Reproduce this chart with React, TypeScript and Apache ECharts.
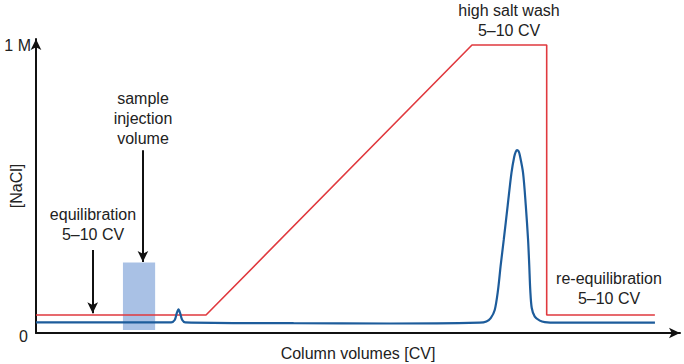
import React, { useEffect, useRef } from "react";
import * as echarts from "echarts";

// Salt gradient ([NaCl], fraction of 1 M) vs column volumes (arbitrary CV scale 0-100)
const saltX = [0, 26.4, 67.7, 79.3, 79.3, 96.1];
const saltY = [0.0625, 0.0625, 1.0, 1.0, 0.0625, 0.0625];

// UV absorbance trace (same x scale, drawn on same y scale)
const absX = [0, 21.0, 21.54, 21.85, 22.13, 22.39, 22.71, 23.17, 40, 55, 68.9, 69.94, 70.61, 71.23, 71.74, 72.16, 72.63, 73.25, 73.83, 74.26, 74.49, 74.7, 74.94, 75.12, 75.63, 76.05, 76.41, 76.59, 76.75, 76.98, 77.45, 78.23, 79.0, 80.82, 96.11];
const absY = [0.037, 0.037, 0.045, 0.068, 0.082, 0.068, 0.045, 0.037, 0.034, 0.033, 0.036, 0.04, 0.052, 0.08, 0.149, 0.236, 0.323, 0.444, 0.556, 0.612, 0.629, 0.635, 0.631, 0.618, 0.556, 0.444, 0.323, 0.236, 0.149, 0.087, 0.057, 0.043, 0.038, 0.036, 0.036];

// Sample injection volume block
const injectionStart = 13.5;
const injectionEnd = 18.5;
const injectionBottom = 0.01;
const injectionTop = 0.245;

// Annotation arrows: [x, yFrom, yTo]
const injectionArrow = [16.6, 0.635, 0.247];
const equilArrow = [8.8, 0.288, 0.069];

const yTickValues = [0, 1];
const yTickLabels = ["0", "1 M"];

const FONT = "'Liberation Sans', Arial, sans-serif";
const FS = 16;
const TXT = "#222";

export default function App() {
  const ref = useRef<HTMLDivElement>(null);
  useEffect(() => {
    const chart = echarts.init(ref.current!, null, { renderer: "svg" });
    const zip = (xs: number[], ys: number[]) => xs.map((x, i) => [x, ys[i]]);
    const arrowLine = (a: number[]) => [{ coord: [a[0], a[1]] }, { coord: [a[0], a[2]] }];
    const textStyle = (t: string) => ({
      text: t,
      font: `${FS}px ${FONT}`,
      fill: TXT,
      textAlign: "center",
      textVerticalAlign: "top",
      lineHeight: 20,
    });
    chart.setOption({
      animation: false,
      backgroundColor: "#fff",
      grid: { left: 36, right: 4, top: 39, bottom: 31, containLabel: false, outerBoundsMode: "none" },
      xAxis: {
        type: "value",
        min: 0,
        max: 100,
        axisLine: {
          show: true,
          symbol: ["none", "arrow"],
          symbolSize: [8, 11],
          lineStyle: { color: "#111", width: 2 },
        },
        axisTick: { show: false },
        axisLabel: { show: false },
        splitLine: { show: false },
        name: "Column volumes [CV]",
        nameLocation: "middle",
        nameGap: 12,
        nameMoveOverlap: false,
        nameTextStyle: { fontFamily: FONT, fontSize: FS, color: TXT },
      },
      yAxis: {
        type: "value",
        min: 0,
        max: 1.021,
        axisLine: {
          show: true,
          symbol: ["none", "arrow"],
          symbolSize: [8, 11],
          lineStyle: { color: "#111", width: 2 },
        },
        axisTick: { show: false },
        splitLine: { show: false },
        axisLabel: {
          customValues: yTickValues,
          formatter: (v: number) => {
            const i = yTickValues.indexOf(v);
            const s = i >= 0 ? yTickLabels[i] : "";
            return v === 0 ? `{z|${s}}` : `{o|${s}}`;
          },
          margin: 5,
          rich: {
            z: { fontFamily: FONT, fontSize: FS, color: TXT, padding: [6, 3, 0, 0] },
            o: { fontFamily: FONT, fontSize: FS, color: TXT },
          },
        },
        name: "[NaCl]",
        nameLocation: "middle",
        nameGap: 12,
        nameRotate: 90,
        nameMoveOverlap: false,
        nameTextStyle: { fontFamily: FONT, fontSize: FS, color: TXT },
      },
      series: [
        {
          type: "line",
          data: [],
          silent: true,
          markArea: {
            silent: true,
            itemStyle: { color: "#a9c1e5" },
            data: [[{ coord: [injectionStart, injectionBottom] }, { coord: [injectionEnd, injectionTop] }]],
          },
          markLine: {
            silent: true,
            symbol: ["none", "arrow"],
            symbolSize: [8, 11],
            label: { show: false },
            lineStyle: { color: "#111", width: 2, type: "solid" },
            data: [arrowLine(injectionArrow), arrowLine(equilArrow)],
          },
        },
        {
          type: "line",
          data: zip(saltX, saltY),
          showSymbol: false,
          lineStyle: { color: "#e0393e", width: 1.6 },
          z: 3,
        },
        {
          type: "line",
          data: zip(absX, absY),
          showSymbol: false,
          smooth: 0.3,
          lineStyle: { color: "#1d5c9b", width: 2.2 },
          z: 4,
        },
      ],
      graphic: [
        { type: "text", x: 509, y: 0, style: textStyle("high salt wash\n5–10 CV") },
        { type: "text", x: 143, y: 88, style: textStyle("sample\ninjection\nvolume") },
        { type: "text", x: 93, y: 204, style: textStyle("equilibration\n5–10 CV") },
        { type: "text", x: 609, y: 268, style: textStyle("re-equilibration\n5–10 CV") },
      ],
    });
    return () => chart.dispose();
  }, []);
  return <div ref={ref} style={{ width: 684, height: 364, position: "absolute", left: 0, top: 0 }} />;
}
